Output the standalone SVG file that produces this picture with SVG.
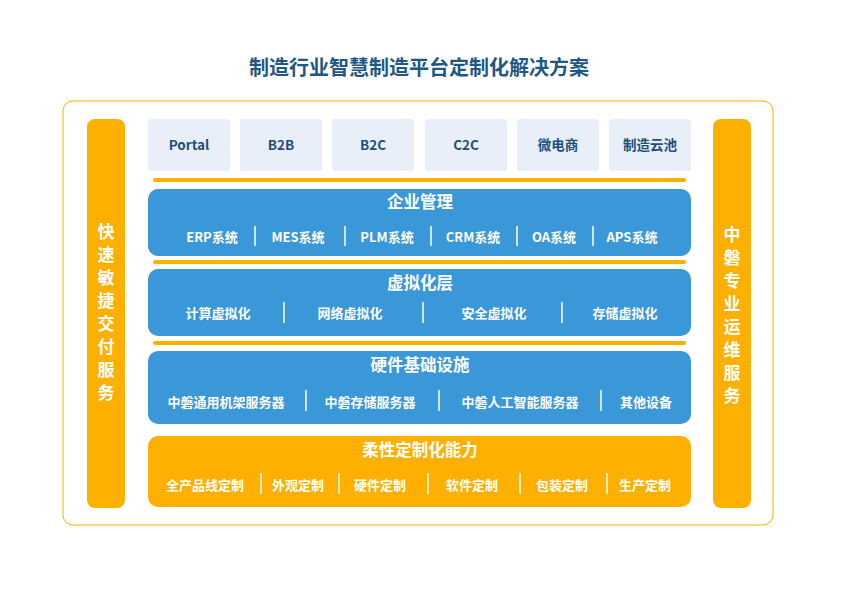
<svg xmlns="http://www.w3.org/2000/svg" width="842" height="595" viewBox="0 0 842 595">
<style>
.ff{font-family:"Noto Sans CJK SC","Liberation Sans",sans-serif;font-weight:bold}
.top{fill:#e9eff9}
.tt{fill:#1e4f7c;font-size:13.5px;text-anchor:middle}
.blue{fill:#3a98d8}
.org{fill:#fdb000}
.h{fill:#fff;font-size:16.5px;text-anchor:middle}
.i{fill:#fff;font-size:13px;text-anchor:middle}
.sep{stroke:#fff;stroke-width:1.5}
.ol{stroke:#fdb000;stroke-width:4;stroke-linecap:round}
.v{fill:#fff;font-size:17px;text-anchor:middle}
</style>
<rect width="842" height="595" fill="#fff"/>
<text x="419" y="75" class="ff" font-size="20" fill="#1f5886" text-anchor="middle">制造行业智慧制造平台定制化解决方案</text>
<rect x="63" y="101" width="710" height="424" rx="10" fill="none" stroke="#fdb000" stroke-width="1"/>
<g id="left"><rect x="87" y="119" width="38" height="389" rx="8" class="org"/>
<text class="ff v"><tspan x="106" y="238">快</tspan><tspan x="106" y="261">速</tspan><tspan x="106" y="284">敏</tspan><tspan x="106" y="307">捷</tspan><tspan x="106" y="330">交</tspan><tspan x="106" y="353">付</tspan><tspan x="106" y="376">服</tspan><tspan x="106" y="399">务</tspan></text></g>
<g id="right"><rect x="713" y="119" width="38" height="389" rx="8" class="org"/>
<text class="ff v"><tspan x="732" y="241">中</tspan><tspan x="732" y="264">磐</tspan><tspan x="732" y="287">专</tspan><tspan x="732" y="310">业</tspan><tspan x="732" y="333">运</tspan><tspan x="732" y="356">维</tspan><tspan x="732" y="379">服</tspan><tspan x="732" y="402">务</tspan></text></g>
<g id="channels">
<rect x="148" y="119" width="82" height="52" rx="3" class="top"/><text x="189" y="150" class="ff tt">Portal</text>
<rect x="240" y="119" width="82" height="52" rx="3" class="top"/><text x="281" y="150" class="ff tt">B2B</text>
<rect x="332" y="119" width="82" height="52" rx="3" class="top"/><text x="373" y="150" class="ff tt">B2C</text>
<rect x="425" y="119" width="82" height="52" rx="3" class="top"/><text x="466" y="150" class="ff tt">C2C</text>
<rect x="517" y="119" width="82" height="52" rx="3" class="top"/><text x="558" y="150" class="ff tt">微电商</text>
<rect x="609" y="119" width="82" height="52" rx="3" class="top"/><text x="650" y="150" class="ff tt">制造云池</text>
</g>
<g id="connectors">
<line x1="155" y1="180" x2="684" y2="180" class="ol"/>
<line x1="155" y1="262" x2="684" y2="262" class="ol"/>
<line x1="155" y1="343" x2="684" y2="343" class="ol"/>
</g>
<g id="erp"><rect x="148" y="189" width="543" height="67" rx="10" class="blue"/>
<text x="420" y="208" class="ff h">企业管理</text>
<g class="ff i"><text x="212" y="242">ERP系统</text><text x="298" y="242">MES系统</text><text x="387" y="242">PLM系统</text><text x="473" y="242">CRM系统</text><text x="554" y="242">OA系统</text><text x="632" y="242">APS系统</text></g>
<g class="sep"><line x1="255" y1="226" x2="255" y2="246"/><line x1="345" y1="226" x2="345" y2="246"/><line x1="431" y1="226" x2="431" y2="246"/><line x1="517" y1="226" x2="517" y2="246"/><line x1="593" y1="226" x2="593" y2="246"/></g></g>
<g id="virt"><rect x="148" y="269" width="543" height="67" rx="10" class="blue"/>
<text x="420" y="289" class="ff h">虚拟化层</text>
<g class="ff i"><text x="218" y="318">计算虚拟化</text><text x="350" y="318">网络虚拟化</text><text x="494" y="318">安全虚拟化</text><text x="625" y="318">存储虚拟化</text></g>
<g class="sep"><line x1="284" y1="302" x2="284" y2="323"/><line x1="423" y1="302" x2="423" y2="323"/><line x1="562" y1="302" x2="562" y2="323"/></g></g>
<g id="hw"><rect x="148" y="351" width="543" height="73" rx="10" class="blue"/>
<text x="420" y="371" class="ff h">硬件基础设施</text>
<g class="ff i"><text x="226" y="407">中磐通用机架服务器</text><text x="370" y="407">中磐存储服务器</text><text x="520" y="407">中磐人工智能服务器</text><text x="646" y="407">其他设备</text></g>
<g class="sep"><line x1="306" y1="390" x2="306" y2="411"/><line x1="439" y1="390" x2="439" y2="411"/><line x1="601" y1="390" x2="601" y2="411"/></g></g>
<g id="flex"><rect x="148" y="436" width="543" height="71" rx="10" class="org"/>
<text x="420" y="456" class="ff h">柔性定制化能力</text>
<g class="ff i"><text x="205" y="490">全产品线定制</text><text x="298" y="490">外观定制</text><text x="380" y="490">硬件定制</text><text x="472" y="490">软件定制</text><text x="562" y="490">包装定制</text><text x="645" y="490">生产定制</text></g>
<g class="sep"><line x1="261" y1="473" x2="261" y2="494"/><line x1="339" y1="473" x2="339" y2="494"/><line x1="428" y1="473" x2="428" y2="494"/><line x1="520" y1="473" x2="520" y2="494"/><line x1="607" y1="473" x2="607" y2="494"/></g></g>
</svg>
